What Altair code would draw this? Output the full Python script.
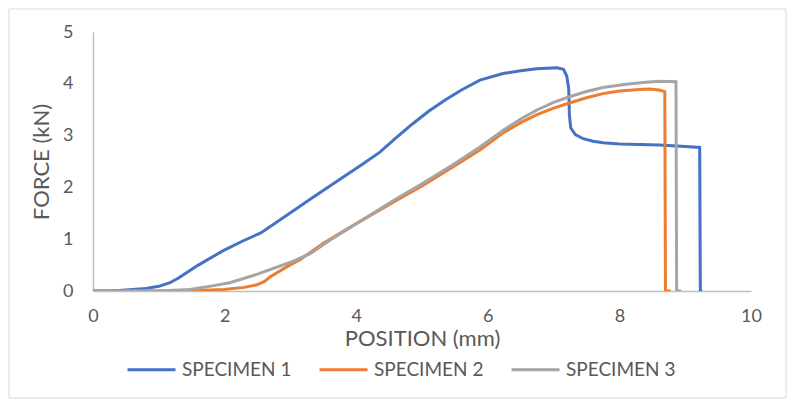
import altair as alt
import pandas as pd

series_names = ["SPECIMEN 1", "SPECIMEN 2", "SPECIMEN 3"]
series_colors = ["#4472C4", "#ED7D31", "#A5A5A5"]

s1_x = [0, 0.4, 0.8, 1.0, 1.17, 1.3, 1.6, 1.98, 2.3, 2.55, 2.99, 3.3, 3.85, 4.1, 4.36, 4.6,
        4.85, 5.1, 5.37, 5.6, 5.88, 6.23, 6.5, 6.74, 7.05, 7.15, 7.2, 7.23, 7.24, 7.26, 7.33,
        7.45, 7.6, 7.75, 8.0, 8.3, 8.61, 9.0, 9.22, 9.23, 9.26]
s1_y = [0, 0.01, 0.05, 0.09, 0.16, 0.25, 0.5, 0.78, 0.98, 1.12, 1.5, 1.77, 2.24, 2.45, 2.68, 2.95,
        3.22, 3.47, 3.7, 3.88, 4.07, 4.2, 4.25, 4.29, 4.31, 4.28, 4.15, 3.9, 3.4, 3.15, 3.02,
        2.94, 2.89, 2.86, 2.84, 2.83, 2.82, 2.79, 2.77, 0, 0]

s2_x = [0.45, 1.4, 1.98, 2.3, 2.49, 2.6, 2.7, 2.99, 3.14, 3.5, 4.0, 4.61, 5.0, 5.5, 5.88,
        6.23, 6.5, 6.74, 7.0, 7.24, 7.5, 7.75, 8.0, 8.3, 8.46, 8.6, 8.69, 8.70, 8.78]
s2_y = [0, 0, 0.03, 0.07, 0.12, 0.18, 0.28, 0.5, 0.6, 0.92, 1.3, 1.75, 2.03, 2.42, 2.72,
        3.05, 3.25, 3.4, 3.53, 3.63, 3.73, 3.81, 3.86, 3.89, 3.9, 3.88, 3.85, 0, 0]

s3_x = [0, 1.0, 1.47, 1.73, 2.08, 2.49, 2.99, 3.3, 3.6, 4.0, 4.61, 5.0, 5.5, 5.88, 6.23,
        6.5, 6.74, 7.0, 7.24, 7.5, 7.75, 8.1, 8.4, 8.61, 8.86, 8.87, 8.94]
s3_y = [0, 0.0, 0.03, 0.08, 0.16, 0.32, 0.55, 0.72, 0.98, 1.3, 1.78, 2.07, 2.46, 2.78, 3.1,
        3.32, 3.49, 3.64, 3.75, 3.85, 3.93, 3.99, 4.03, 4.05, 4.04, 0, 0]

x_ticks = [0, 2, 4, 6, 8, 10]
y_ticks = [0, 1, 2, 3, 4, 5]

rows = []
for name, xs, ys in zip(series_names, [s1_x, s2_x, s3_x], [s1_y, s2_y, s3_y]):
    for i, (xv, yv) in enumerate(zip(xs, ys)):
        rows.append({"series": name, "pos": xv, "force": yv, "order": i})
df = pd.DataFrame(rows)

FONT = "Lato"
GREY = "#595959"

lines = alt.Chart(df).mark_line(strokeWidth=3, clip=True).encode(
    x=alt.X("pos:Q", scale=alt.Scale(domain=[0, 10], nice=False),
            axis=alt.Axis(values=x_ticks, title="POSITION (mm)", labelPadding=16,
                          titlePadding=3, labelFlush=False)),
    y=alt.Y("force:Q", scale=alt.Scale(domain=[0, 5], nice=False),
            axis=alt.Axis(values=y_ticks, title="FORCE (kN)", labelPadding=20,
                          titlePadding=9)),
    color=alt.Color("series:N",
                    scale=alt.Scale(domain=series_names, range=series_colors),
                    legend=alt.Legend(title=None, orient="none", direction="horizontal",
                                      legendX=33, legendY=312, symbolType="stroke",
                                      symbolSize=2304, symbolStrokeWidth=3,
                                      labelOffset=5, columnPadding=21, padding=0,
                                      labelFontSize=19, labelFont=FONT, labelColor=GREY,
                                      labelLimit=300)),
    order="order:Q",
)

frame = alt.Chart(alt.Data(values=[{}])).mark_rect(
    filled=False, stroke="#d9d9d9", strokeWidth=1
).encode(
    x=alt.value(-84), x2=alt.value(693), y=alt.value(-23), y2=alt.value(366)
)

chart = alt.layer(frame, lines).properties(
    width=658, height=259, padding=0
).configure_view(stroke=None).configure_axis(
    grid=False, ticks=False, domainColor="#bfbfbf", domainWidth=1.5,
    labelFont=FONT, labelFontSize=18, labelColor=GREY,
    titleFont=FONT, titleFontSize=22, titleFontWeight="normal", titleColor=GREY,
)

chart.save("out.html", embed_options={"renderer": "svg", "actions": False})
